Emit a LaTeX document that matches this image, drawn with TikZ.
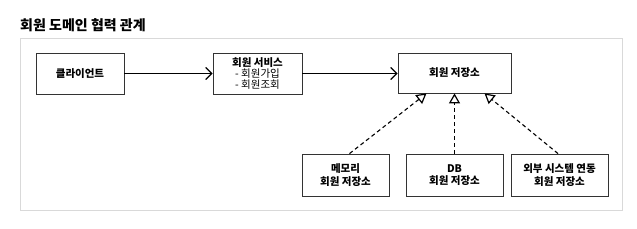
\documentclass[tikz,border=0pt]{standalone}
\usepackage{fontspec}
\setmainfont{Noto Sans CJK KR}
\usetikzlibrary{arrows.meta}

\begin{document}
\begin{tikzpicture}[x=1pt,y=-1pt,>={Straight Barb[length=6pt,width=12pt]},
  box/.style={draw=black!80,line width=0.8pt,fill=white,inner sep=0pt,
    font=\fontsize{10.5}{12.5}\selectfont\bfseries,align=center},
  uses/.style={->,line width=1.3pt},
  realizes/.style={-{Triangle[open,length=10pt,width=11pt,line width=1.2pt]},line width=1.1pt,dash pattern=on 4pt off 3pt}]
\useasboundingbox (0,0) rectangle (637,228);
%frame and title
\draw[black!15,line width=1pt,fill=white] (20,38) rectangle (622,210);
\node[anchor=west,inner sep=0pt,font=\fontsize{14}{16}\selectfont\bfseries] (title) at (20,25) {회원 도메인 협력 관계};
%upper row
\node[box,minimum width=88,minimum height=41] (client) at (80,73.5) {클라이언트};
\node[box,minimum width=89,minimum height=41] (service) at (257.5,73.5)
  {회원 서비스\\[-1.5pt]{\mdseries - 회원가입}\\[-1.5pt]{\mdseries - 회원조회}};
\node[box,minimum width=113,minimum height=40] (repo) at (454.5,73) {회원 저장소};
%lower row
\node[box,minimum width=87,minimum height=42] (memory) at (345.5,175) {메모리\\회원 저장소};
\node[box,minimum width=97,minimum height=42] (db) at (454.5,175) {DB\\회원 저장소};
\node[box,minimum width=97,minimum height=42] (external) at (559.5,175) {외부 시스템 연동\\회원 저장소};
%connectors
\draw[uses] (client) -- (service);
\draw[uses] (service) -- (service -| repo.west);
\draw[realizes] ([xshift=4]memory.north) -- ([xshift=-28]repo.south);
\draw[realizes] (db.north) -- (repo.south);
\draw[realizes] ([xshift=-1.5]external.north) -- ([xshift=30]repo.south);
\end{tikzpicture}
\end{document}
